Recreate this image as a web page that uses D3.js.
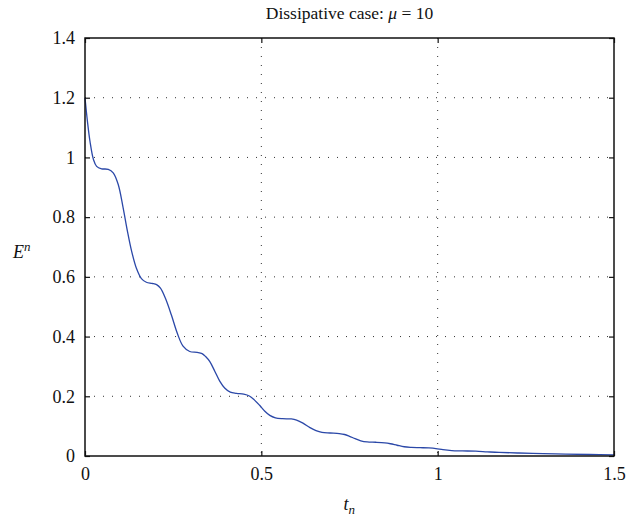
<!DOCTYPE html>
<html>
<head>
<meta charset="utf-8">
<script src="https://cdn.jsdelivr.net/npm/d3@7/dist/d3.min.js"></script>
<style>
  html, body { margin: 0; padding: 0; background: #fff; }
  svg { display: block; }
  svg text { font-family: "Liberation Serif", "Times New Roman", Times, "DejaVu Serif", serif !important; fill: #111; }
</style>
</head>
<body>
<div id="chart"></div>
<script>
// Data
const tValues = [0, 0.007, 0.014, 0.024, 0.033, 0.047, 0.066, 0.080, 0.094, 0.108, 0.120, 0.132, 0.146, 0.160, 0.174, 0.190, 0.203, 0.214, 0.228, 0.245, 0.262, 0.278, 0.297, 0.318, 0.332, 0.342, 0.354, 0.368, 0.382, 0.396, 0.412, 0.430, 0.450, 0.466, 0.480, 0.495, 0.510, 0.524, 0.540, 0.560, 0.585, 0.600, 0.618, 0.638, 0.655, 0.672, 0.695, 0.721, 0.736, 0.750, 0.766, 0.782, 0.800, 0.825, 0.850, 0.866, 0.885, 0.905, 0.925, 0.950, 0.975, 0.995, 1.015, 1.040, 1.070, 1.108, 1.140, 1.174, 1.230, 1.300, 1.363, 1.430, 1.500];
const eValues = [1.2, 1.12, 1.055, 0.993, 0.970, 0.962, 0.960, 0.948, 0.910, 0.832, 0.755, 0.687, 0.628, 0.594, 0.582, 0.578, 0.574, 0.562, 0.528, 0.472, 0.410, 0.368, 0.350, 0.347, 0.343, 0.333, 0.316, 0.284, 0.251, 0.228, 0.214, 0.210, 0.207, 0.201, 0.188, 0.170, 0.150, 0.136, 0.128, 0.125, 0.124, 0.120, 0.110, 0.095, 0.085, 0.079, 0.077, 0.075, 0.072, 0.066, 0.058, 0.051, 0.047, 0.046, 0.044, 0.041, 0.036, 0.031, 0.029, 0.028, 0.027, 0.025, 0.021, 0.018, 0.017, 0.016, 0.014, 0.012, 0.010, 0.008, 0.006, 0.005, 0.004];
const xTicks = [0, 0.5, 1, 1.5];
const yTicks = [0, 0.2, 0.4, 0.6, 0.8, 1, 1.2, 1.4];
const xTickLabels = ["0", "0.5", "1", "1.5"];
const yTickLabels = ["0", "0.2", "0.4", "0.6", "0.8", "1", "1.2", "1.4"];

const W = 626, H = 524;
const margin = { left: 85, right: 12, top: 38, bottom: 68 };
const pw = W - margin.left - margin.right;
const ph = H - margin.top - margin.bottom;

const svg = d3.select("#chart").append("svg").attr("width", W).attr("height", H);
const g = svg.append("g").attr("transform", `translate(${margin.left},${margin.top})`);

const x = d3.scaleLinear().domain([0, 1.5]).range([0, pw]);
const y = d3.scaleLinear().domain([0, 1.4]).range([ph, 0]);

// Grid (dotted)
function gridLine(sel) {
  sel.attr("stroke", "#333").attr("stroke-width", 1).attr("stroke-dasharray", "1,8");
}
g.append("g").selectAll("line").data(xTicks.slice(1, -1)).enter().append("line")
  .attr("x1", d => x(d)).attr("x2", d => x(d)).attr("y1", 0).attr("y2", ph).call(gridLine);
g.append("g").selectAll("line").data(yTicks.slice(1, -1)).enter().append("line")
  .attr("x1", 0).attr("x2", pw).attr("y1", d => y(d)).attr("y2", d => y(d)).call(gridLine);

// Curve
const data = tValues.map((t, i) => ({ t, e: eValues[i] }));
g.append("path").datum(data)
  .attr("fill", "none").attr("stroke", "#2b48a8").attr("stroke-width", 1.3)
  .attr("d", d3.line().x(d => x(d.t)).y(d => y(d.e)).curve(d3.curveCatmullRom.alpha(0.5)));

// Axes with inward ticks
const tickLen = 5;
const xAxisB = d3.axisBottom(x).tickValues(xTicks).tickSize(-tickLen).tickPadding(11).tickFormat((d, i) => xTickLabels[i]);
const xAxisT = d3.axisTop(x).tickValues(xTicks).tickSize(-tickLen).tickFormat("");
const yAxisL = d3.axisLeft(y).tickValues(yTicks).tickSize(-tickLen).tickPadding(10).tickFormat((d, i) => yTickLabels[i]);
const yAxisR = d3.axisRight(y).tickValues(yTicks).tickSize(-tickLen).tickFormat("");

function style(sel) {
  sel.attr("font-family", null);
  sel.select(".domain").remove();
  sel.selectAll("line").attr("stroke", "#111").attr("stroke-width", 1.2);
  sel.selectAll("text").style("font-size", "18px").attr("fill", "#111");
}
g.append("g").attr("transform", `translate(0,${ph})`).call(xAxisB).call(style);
g.append("g").call(xAxisT).call(style);
g.append("g").call(yAxisL).call(style);
g.append("g").attr("transform", `translate(${pw},0)`).call(yAxisR).call(style);

// Frame
g.append("rect").attr("x", 0).attr("y", 0).attr("width", pw).attr("height", ph)
  .attr("fill", "none").attr("stroke", "#111").attr("stroke-width", 1.5);

// Title
const title = svg.append("text").attr("x", margin.left + pw / 2).attr("y", 19)
  .attr("text-anchor", "middle").style("font-size", "17.5px");
title.append("tspan").text("Dissipative case: ");
title.append("tspan").attr("font-style", "italic").text("μ");
title.append("tspan").text(" = 10");

// Y label E^n
const yl = svg.append("text").attr("x", 13).attr("y", 258).style("font-size", "18px");
yl.append("tspan").attr("font-style", "italic").text("E");
yl.append("tspan").attr("font-style", "italic").attr("dy", -7).style("font-size", "13px").text("n");

// X label t_n
const xl = svg.append("text").attr("x", margin.left + pw / 2 - 6).attr("y", 510).style("font-size", "18px");
xl.append("tspan").attr("font-style", "italic").text("t");
xl.append("tspan").attr("font-style", "italic").attr("dy", 4).style("font-size", "13px").text("n");
</script>
</body>
</html>
